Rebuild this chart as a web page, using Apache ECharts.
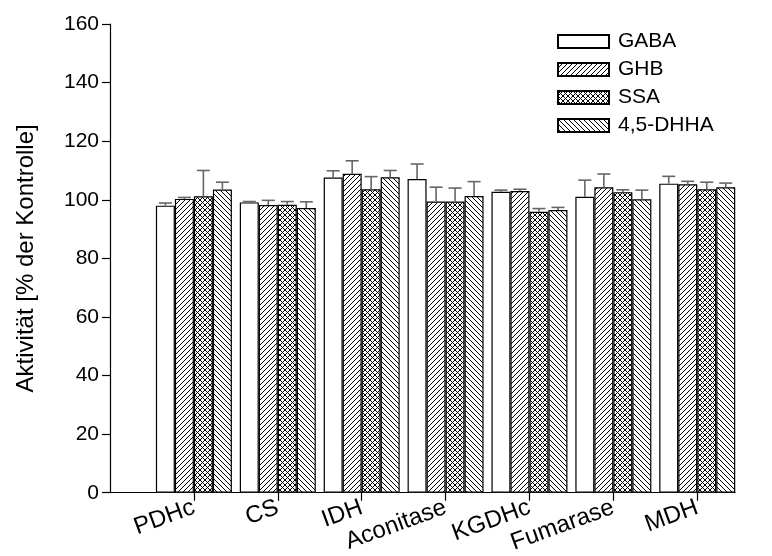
<!DOCTYPE html>
<html>
<head>
<meta charset="utf-8">
<script src="https://cdn.jsdelivr.net/npm/echarts@6/dist/echarts.min.js"></script>
<style>html,body{margin:0;padding:0;background:#fff}#c{width:772px;height:556px}</style>
</head>
<body>
<div id="c"></div>
<script>
const categories = ['PDHc', 'CS', 'IDH', 'Aconitase', 'KGDHc', 'Fumarase', 'MDH'];
const seriesNames = ['GABA', 'GHB', 'SSA', '4,5-DHHA'];
const gabaValues = [98.0, 99.1, 107.6, 107.1, 102.7, 101.0, 105.5];
const gabaErrors = [0.9, 0.3, 2.3, 5.1, 0.6, 5.7, 2.5];
const ghbValues = [100.3, 98.2, 108.9, 99.4, 103.0, 104.3, 105.3];
const ghbErrors = [0.5, 1.6, 4.4, 4.9, 0.6, 4.5, 1.0];
const ssaValues = [101.2, 98.3, 103.6, 99.4, 95.9, 102.6, 103.6];
const ssaErrors = [8.8, 1.1, 4.3, 4.6, 1.1, 0.8, 2.4];
const dhhaValues = [103.5, 97.2, 107.7, 101.3, 96.5, 100.2, 104.3];
const dhhaErrors = [2.5, 2.1, 2.3, 4.9, 0.9, 3.1, 1.4];
const yTicks = [0, 20, 40, 60, 80, 100, 120, 140, 160];

const allValues = [gabaValues, ghbValues, ssaValues, dhhaValues];
const allErrors = [gabaErrors, ghbErrors, ssaErrors, dhhaErrors];

const FONT = 'Liberation Sans, Arial, sans-serif';
const BAR_W = 19;

function makePattern(kind) {
  const s = 5;
  const c = document.createElement('canvas');
  c.width = s; c.height = s;
  const ctx = c.getContext('2d');
  ctx.fillStyle = '#fff';
  ctx.fillRect(0, 0, s, s);
  if (kind === 'none') return '#fff';
  ctx.strokeStyle = '#000';
  ctx.lineWidth = 1;
  function fwd() {
    ctx.beginPath();
    ctx.moveTo(-1, s + 1); ctx.lineTo(s + 1, -1);
    ctx.moveTo(-1, 1); ctx.lineTo(1, -1);
    ctx.moveTo(s - 1, s + 1); ctx.lineTo(s + 1, s - 1);
    ctx.stroke();
  }
  function back() {
    ctx.beginPath();
    ctx.moveTo(-1, -1); ctx.lineTo(s + 1, s + 1);
    ctx.moveTo(s - 1, -1); ctx.lineTo(s + 1, 1);
    ctx.moveTo(-1, s - 1); ctx.lineTo(1, s + 1);
    ctx.stroke();
  }
  if (kind === 'fwd') fwd();
  if (kind === 'back') back();
  if (kind === 'cross') { fwd(); back(); }
  return { image: c, repeat: 'repeat' };
}
const patterns = ['none', 'fwd', 'cross', 'back'];

const series = [];
seriesNames.forEach((name, si) => {
  series.push({
    name: name,
    type: 'bar',
    barWidth: BAR_W,
    barGap: '0%',
    data: allValues[si].map((v, i) => [i, v]),
    itemStyle: { color: makePattern(patterns[si]), borderColor: '#000', borderWidth: 1.2 },
    emphasis: { disabled: true },
    z: 2
  });
});
seriesNames.forEach((name, si) => {
  series.push({
    name: name + ' err',
    type: 'custom',
    z: 3,
    silent: true,
    data: allValues[si].map((v, i) => [i, v, allErrors[si][i]]),
    renderItem: function (params, api) {
      const x = api.value(0), v = api.value(1), e = api.value(2);
      const p0 = api.coord([x, v]);
      const p1 = api.coord([x, v + e]);
      const cx = p0[0] + (si - 1.5) * BAR_W;
      const half = 6.5;
      const st = { stroke: '#666', lineWidth: 1.6 };
      return {
        type: 'group',
        children: [
          { type: 'line', shape: { x1: cx, y1: p0[1], x2: cx, y2: p1[1] }, style: st },
          { type: 'line', shape: { x1: cx - half, y1: p1[1], x2: cx + half, y2: p1[1] }, style: st }
        ]
      };
    }
  });
});

const chart = echarts.init(document.getElementById('c'));
chart.setOption({
  animation: false,
  backgroundColor: '#fff',
  textStyle: { fontFamily: FONT, color: '#000' },
  grid: { left: 110, right: 37, top: 24, bottom: 62 },
  legend: {
    data: seriesNames,
    orient: 'vertical',
    left: 552,
    top: 26,
    itemWidth: 51,
    itemHeight: 13,
    itemGap: 7,
    icon: 'rect',
    textStyle: { fontFamily: FONT, fontSize: 21, color: '#000', padding: [0, 0, 0, 4] },
    selectedMode: false
  },
  xAxis: {
    type: 'value',
    min: -1,
    max: 6.45,
    interval: 1,
    splitLine: { show: false },
    axisLine: { show: true, onZero: false, lineStyle: { color: '#000', width: 1.2 } },
    axisTick: { show: true, length: 8, lineStyle: { color: '#000', width: 1.2 }, customValues: categories.map((c, i) => i) },
    axisLabel: {
      customValues: categories.map((c, i) => i),
      formatter: function (v) { return categories[Math.round(v)] || ''; },
      rotate: 20,
      margin: 14,
      fontSize: 24,
      fontFamily: FONT,
      color: '#000'
    }
  },
  yAxis: {
    type: 'value',
    min: yTicks[0],
    max: yTicks[yTicks.length - 1],
    interval: 20,
    name: 'Aktivität [% der Kontrolle]',
    nameLocation: 'middle',
    nameGap: 72,
    nameTextStyle: { fontSize: 24, fontFamily: FONT, color: '#000' },
    splitLine: { show: false },
    axisLine: { show: true, onZero: false, lineStyle: { color: '#000', width: 1.2 } },
    axisTick: { show: true, length: 8, lineStyle: { color: '#000', width: 1.2 } },
    axisLabel: { fontSize: 21, margin: 11, fontFamily: FONT, color: '#000' }
  },
  series: series
});
</script>
</body>
</html>
